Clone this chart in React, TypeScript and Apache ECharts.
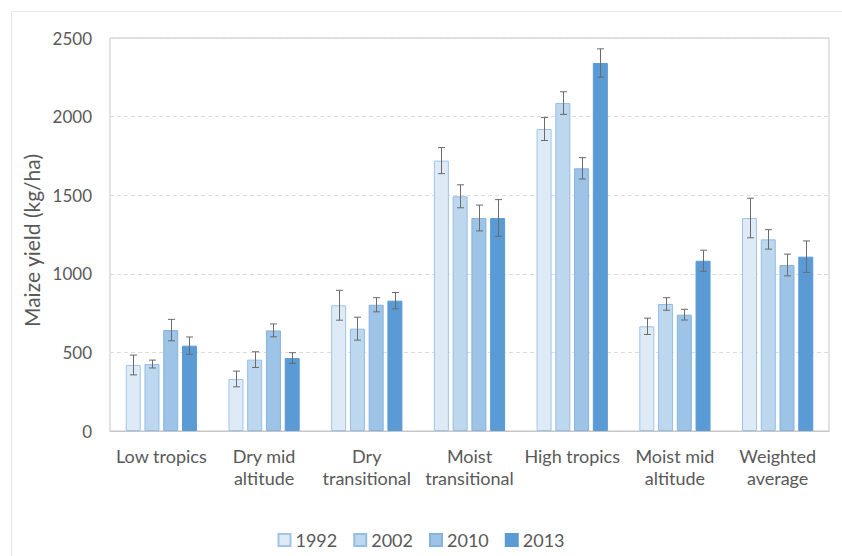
import React, { useEffect, useRef } from "react";
import * as echarts from "echarts";

const categories = [
  "Low tropics",
  "Dry mid\naltitude",
  "Dry\ntransitional",
  "Moist\ntransitional",
  "High tropics",
  "Moist mid\naltitude",
  "Weighted\naverage",
];
const years = ["1992", "2002", "2010", "2013"];

const y1992 = [420, 331, 800, 1720, 1921, 666, 1355];
const y2002 = [426, 454, 651, 1493, 2086, 808, 1219];
const y2010 = [642, 640, 803, 1355, 1671, 740, 1056];
const y2013 = [543, 464, 829, 1355, 2341, 1083, 1109];

const e1992 = [63, 50, 95, 83, 73, 52, 126];
const e2002 = [25, 50, 73, 73, 72, 40, 62];
const e2010 = [68, 41, 45, 82, 68, 34, 69];
const e2013 = [55, 34, 52, 117, 90, 67, 100];

const yTicks = [0, 500, 1000, 1500, 2000, 2500];

const values = [y1992, y2002, y2010, y2013];
const errors = [e1992, e2002, e2010, e2013];

const fills = ["#deeaf6", "#bdd7ee", "#9dc3e6", "#5b9bd5"];
const borders = ["#9fc4e7", "#94bde4", "#86b3de", "#5b9bd5"];

const BAR_W = 15;
const BAR_GAP = 3.75;
const FONT = "Lato, 'Noto Sans', sans-serif";

export default function App() {
  const ref = useRef<HTMLDivElement>(null);
  useEffect(() => {
    document.body.style.margin = "0";
    const chart = echarts.init(ref.current!, null, { renderer: "svg" });
    const total = 4 * BAR_W + 3 * BAR_GAP;
    const barSeries = years.map((y, i) => ({
      name: y,
      type: "bar",
      barWidth: BAR_W,
      barGap: (BAR_GAP / BAR_W) * 100 + "%",
      data: values[i],
      itemStyle: { color: fills[i], borderColor: borders[i], borderWidth: 1 },
      z: 2,
    }));
    const errSeries = years.map((y, i) => ({
      name: y + " err",
      type: "custom",
      data: values[i].map((v, k) => [k, v, errors[i][k]]),
      encode: { x: 0, y: 1 },
      z: 5,
      renderItem: (params: any, api: any) => {
        const k = api.value(0);
        const v = api.value(1);
        const e = api.value(2);
        const hi = api.coord([k, v + e]);
        const lo = api.coord([k, v - e]);
        const off = -total / 2 + i * (BAR_W + BAR_GAP) + BAR_W / 2;
        const x = Math.round(hi[0] + off) + 0.5;
        const cap = 3.5;
        const style = { stroke: "#6b6b6b", lineWidth: 1 };
        return {
          type: "group",
          children: [
            { type: "line", shape: { x1: x, y1: hi[1], x2: x, y2: lo[1] }, style },
            { type: "line", shape: { x1: x - cap, y1: hi[1], x2: x + cap, y2: hi[1] }, style },
            { type: "line", shape: { x1: x - cap, y1: lo[1], x2: x + cap, y2: lo[1] }, style },
          ],
        };
      },
    }));
    chart.setOption({
      animation: false,
      backgroundColor: "#ffffff",
      textStyle: { fontFamily: FONT },
      graphic: [
        {
          type: "rect",
          shape: { x: 11.5, y: 11.5, width: 900, height: 600 },
          style: { fill: "none", stroke: "#e8e8e8", lineWidth: 1 },
          silent: true,
          z: -1,
        },
      ],
      grid: {
        left: 110,
        top: 38,
        right: 13,
        bottom: 125,
        show: true,
        borderColor: "#c6c6c6",
        borderWidth: 1,
        backgroundColor: "transparent",
      },
      legend: {
        data: years,
        bottom: 2,
        left: "center",
        icon: "rect",
        itemWidth: 12,
        itemHeight: 12,
        itemGap: 16,
        textStyle: { fontSize: 18, color: "#595959", fontFamily: FONT },
      },
      xAxis: {
        type: "category",
        data: categories,
        axisTick: { show: false },
        axisLine: { lineStyle: { color: "#c6c6c6" } },
        axisLabel: {
          fontSize: 18,
          color: "#595959",
          lineHeight: 22,
          margin: 14,
          interval: 0,
          fontFamily: FONT,
        },
      },
      yAxis: {
        type: "value",
        min: yTicks[0],
        max: yTicks[yTicks.length - 1],
        interval: 500,
        name: "Maize yield (kg/ha)",
        nameLocation: "middle",
        nameGap: 46,
        nameTextStyle: {
          fontSize: 21,
          color: "#595959",
          fontFamily: FONT,
          padding: [0, 12, 0, 0],
        },
        axisLine: { show: false },
        axisTick: { show: false },
        axisLabel: {
          fontSize: 17,
          color: "#595959",
          margin: 18,
          fontFamily: FONT,
          formatter: (v: number) => String(v),
        },
        splitLine: { lineStyle: { color: "#dcdcdc", type: [4, 3] } },
      },
      series: [...barSeries, ...errSeries],
    });
    return () => chart.dispose();
  }, []);
  return <div ref={ref} style={{ width: 842, height: 556 }} />;
}
